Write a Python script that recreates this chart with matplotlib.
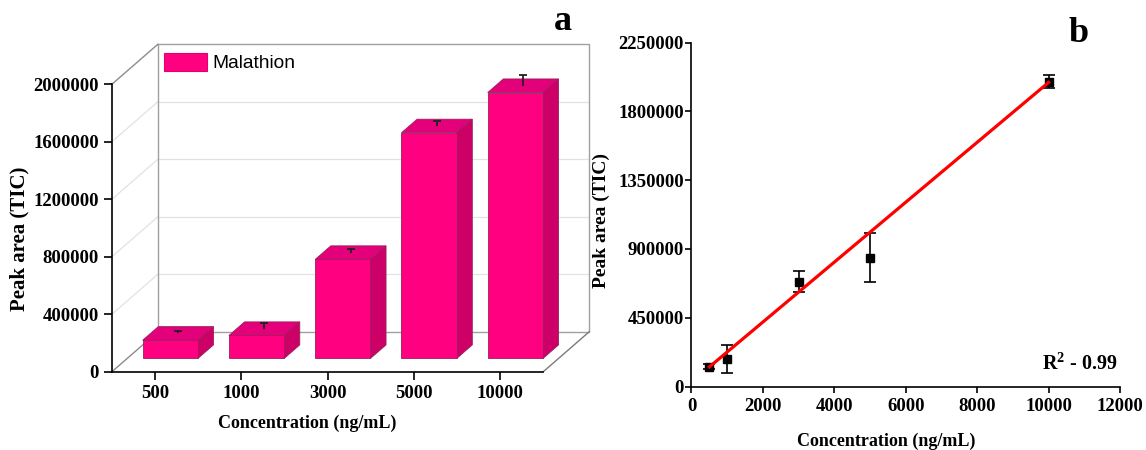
import matplotlib.pyplot as plt
import numpy as np
from matplotlib.patches import Patch, Polygon

# panel a: peak area per concentration (bar chart)
conc_labels = ['500', '1000', '3000', '5000', '10000']
bar_area = [127000, 160000, 689000, 1570000, 1850000]
bar_err = [14000, 37000, 23000, 35000, 78000]

# panel b: calibration points and fitted line
conc = [500, 1000, 3000, 5000, 10000]
area = [130000, 180000, 687000, 844000, 1995000]
area_err = [15000, 90000, 67000, 158000, 41000]
fit_x = [500, 10000]
fit_y = [128000, 1990000]

plt.rcParams['font.family'] = 'Liberation Serif'
plt.rcParams['font.weight'] = 'bold'
plt.rcParams['mathtext.fontset'] = 'custom'
plt.rcParams['mathtext.rm'] = 'Liberation Serif:bold'
plt.rcParams['mathtext.bf'] = 'Liberation Serif:bold'

fig = plt.figure(figsize=(11.46, 4.5), dpi=100)

# ---- panel a: pseudo 3D bars ----
ax1 = fig.add_axes([0.0977, 0.174, 0.4165, 0.7278])
DX = 0.533      # depth shift, category units
DY = 278260     # depth shift, value units
ax1.set_xlim(-0.5, 4.5 + DX)
ax1.set_ylim(0, 2000000 + DY)

yt = np.arange(0, 2000001, 400000)
light = '#e2e2e2'
frame = '#a0a0a0'
for v in yt[1:-1]:
    ax1.plot([-0.5, -0.5 + DX], [v, v + DY], color=light, lw=0.9, zorder=1)
    ax1.plot([-0.5 + DX, 4.5 + DX], [v + DY, v + DY], color=light, lw=0.9, zorder=1)

# back wall and floor edges
bx0, bx1 = -0.5 + DX, 4.5 + DX
ax1.plot([bx0, bx1, bx1, bx0, bx0], [DY, DY, 2000000 + DY, 2000000 + DY, DY],
         color=frame, lw=1.0, zorder=1, clip_on=False)
ax1.plot([-0.5, bx0], [0, DY], color='#8c8c8c', lw=1.0, zorder=1, clip_on=False)
ax1.plot([4.5, bx1], [0, DY], color='#7a7a7a', lw=1.0, zorder=1, clip_on=False)
ax1.plot([-0.5, bx0], [2000000, 2000000 + DY], color='#8c8c8c', lw=1.0,
         zorder=1, clip_on=False)

f0, f1 = 0.33, 0.67
hw = 0.32
ddx, ddy = (f1 - f0) * DX, (f1 - f0) * DY
edge = '#9a1f5c'
for i, (v, e) in enumerate(zip(bar_area, bar_err)):
    x0 = i - hw + f0 * DX
    x1 = i + hw + f0 * DX
    yb = f0 * DY
    front = [(x0, yb), (x1, yb), (x1, yb + v), (x0, yb + v)]
    side = [(x1, yb), (x1 + ddx, yb + ddy), (x1 + ddx, yb + ddy + v), (x1, yb + v)]
    top = [(x0, yb + v), (x1, yb + v), (x1 + ddx, yb + v + ddy), (x0 + ddx, yb + v + ddy)]
    ax1.add_patch(Polygon(side, closed=True, fc='#cc0066', ec=edge, lw=0.6, zorder=3))
    ax1.add_patch(Polygon(top, closed=True, fc='#e3007a', ec=edge, lw=0.6, zorder=3))
    ax1.add_patch(Polygon(front, closed=True, fc='#ff0080', ec=edge, lw=0.6, zorder=3))
    # error bar, upper half only
    xc = i + 0.5 * DX
    yc = 0.5 * DY + v
    ax1.vlines(xc, yc, yc + e, color='#222222', lw=1.3, zorder=4)
    ax1.plot([xc], [yc + e], marker='_', ms=6, mew=1.3, color='#222222', zorder=4)

ax1.set_xticks(range(len(conc_labels)), conc_labels)
ax1.set_yticks(yt, [str(v) for v in yt])
for s in ['top', 'right']:
    ax1.spines[s].set_visible(False)
ax1.spines['left'].set_bounds(0, 2000000)
ax1.spines['bottom'].set_bounds(-0.5, 4.5)
for s in ['left', 'bottom']:
    ax1.spines[s].set_linewidth(1.2)
ax1.tick_params(direction='out', length=5.5, width=1.2, labelsize=13.5, pad=4)

ax1.set_xlabel('Concentration (ng/mL)', fontsize=13, fontweight='bold')
ax1.set_ylabel('Peak area (TIC)', fontsize=15, fontweight='bold')
ax1.xaxis.set_label_coords(0.41, -0.158)
ax1.xaxis.label.set_va('center')
ax1.yaxis.set_label_coords(-0.193, 0.405)
ax1.yaxis.label.set_va('center')

leg = ax1.legend(handles=[Patch(fc='#ff0080', ec='#e0006e', lw=0.8, label='Malathion')],
                 loc='upper left', bbox_to_anchor=(164 / 1146, 1 - 53 / 450),
                 bbox_transform=fig.transFigure, frameon=False,
                 handlelength=2.25, handleheight=1.05, handletextpad=0.3,
                 borderpad=0, borderaxespad=0,
                 prop={'family': 'Liberation Sans', 'weight': 'normal', 'size': 13.8})

# ---- panel b: calibration ----
ax2 = fig.add_axes([0.6034, 0.1411, 0.3739, 0.764])
ax2.set_xlim(0, 12000)
ax2.set_ylim(0, 2250000)
ax2.errorbar(conc, area, yerr=area_err, fmt='s', color='black', ms=5.5,
             capsize=4, elinewidth=1.2, capthick=1.2, zorder=2, clip_on=False)
ax2.plot(fit_x, fit_y, color='#ff0000', lw=2.3, zorder=3)

xt2 = np.arange(0, 12001, 2000)
yt2 = np.arange(0, 2250001, 450000)
ax2.set_xticks(xt2, [str(v) for v in xt2])
ax2.set_yticks(yt2, [str(v) for v in yt2])
for s in ['top', 'right']:
    ax2.spines[s].set_visible(False)
for s in ['left', 'bottom']:
    ax2.spines[s].set_linewidth(1.2)
ax2.tick_params(direction='out', length=4, width=1.2, labelsize=13.5)
ax2.tick_params(axis='y', pad=1.5)
ax2.tick_params(axis='x', pad=4)

ax2.set_xlabel('Concentration (ng/mL)', fontsize=13, fontweight='bold')
ax2.set_ylabel('Peak area (TIC)', fontsize=14, fontweight='bold')
ax2.xaxis.set_label_coords(0.454, -0.16)
ax2.xaxis.label.set_va('center')
ax2.yaxis.set_label_coords(-0.21, 0.484)
ax2.yaxis.label.set_va('center')

ax2.text(0.995, 0.065, 'R$^{2}$ - 0.99', transform=ax2.transAxes,
         ha='right', va='center', fontsize=14.5, fontweight='bold')

fig.text(563 / 1146, 1 - 21 / 450, 'a', fontsize=26, fontweight='bold',
         ha='center', va='center')
fig.text(1079 / 1146, 1 - 33 / 450, 'b', fontsize=26, fontweight='bold',
         ha='center', va='center')

fig.savefig('out.png', dpi=100)
